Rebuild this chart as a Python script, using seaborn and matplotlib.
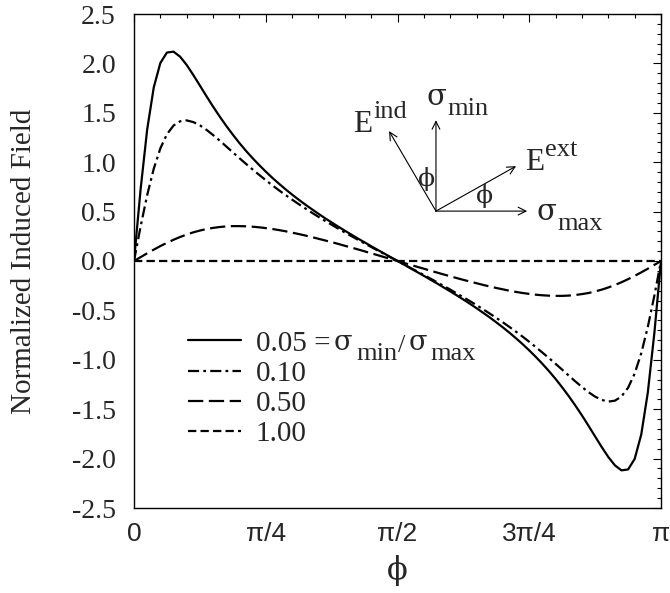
import numpy as np
import pandas as pd
import matplotlib
matplotlib.use("Agg")
import matplotlib.pyplot as plt
from matplotlib.ticker import MultipleLocator, FixedLocator
import seaborn as sns

phi = np.linspace(0, np.pi, 81)
ratio_labels = ["0.05", "0.10", "0.50", "1.00"]
field_005 = [0, 0.724, 1.331, 1.757, 2.004, 2.110, 2.119, 2.068, 1.984, 1.883, 1.776, 1.668,
             1.563, 1.463, 1.368, 1.279, 1.194, 1.115, 1.041, 0.971, 0.905, 0.842, 0.783,
             0.726, 0.672, 0.621, 0.571, 0.524, 0.478, 0.433, 0.390, 0.348, 0.307, 0.267,
             0.227, 0.189, 0.150, 0.112, 0.075, 0.037, 0,
             -0.037, -0.075, -0.112, -0.150, -0.189, -0.227, -0.267, -0.307, -0.348, -0.390,
             -0.433, -0.478, -0.524, -0.571, -0.621, -0.672, -0.726, -0.783, -0.842, -0.905,
             -0.971, -1.041, -1.115, -1.194, -1.279, -1.368, -1.463, -1.563, -1.668, -1.776,
             -1.883, -1.984, -2.068, -2.119, -2.110, -2.004, -1.757, -1.331, -0.724, 0]
field_010 = [0, 0.348, 0.667, 0.934, 1.140, 1.283, 1.371, 1.414, 1.423, 1.406, 1.373, 1.328,
             1.275, 1.219, 1.160, 1.100, 1.041, 0.983, 0.927, 0.872, 0.818, 0.766, 0.716,
             0.668, 0.621, 0.576, 0.532, 0.489, 0.447, 0.406, 0.367, 0.328, 0.289, 0.252,
             0.215, 0.178, 0.142, 0.106, 0.071, 0.035, 0,
             -0.035, -0.071, -0.106, -0.142, -0.178, -0.215, -0.252, -0.289, -0.328, -0.367,
             -0.406, -0.447, -0.489, -0.532, -0.576, -0.621, -0.668, -0.716, -0.766, -0.818,
             -0.872, -0.927, -0.983, -1.041, -1.100, -1.160, -1.219, -1.275, -1.328, -1.373,
             -1.406, -1.423, -1.414, -1.371, -1.283, -1.140, -0.934, -0.667, -0.348, 0]
field_050 = [0, 0.039, 0.078, 0.115, 0.151, 0.184, 0.215, 0.243, 0.268, 0.290, 0.308, 0.324,
             0.335, 0.344, 0.350, 0.353, 0.353, 0.351, 0.347, 0.341, 0.333, 0.324, 0.313,
             0.301, 0.287, 0.273, 0.258, 0.242, 0.225, 0.208, 0.191, 0.173, 0.154, 0.136,
             0.117, 0.098, 0.078, 0.059, 0.039, 0.020, 0,
             -0.020, -0.039, -0.059, -0.078, -0.098, -0.117, -0.136, -0.154, -0.173, -0.191,
             -0.208, -0.225, -0.242, -0.258, -0.273, -0.287, -0.301, -0.313, -0.324, -0.333,
             -0.341, -0.347, -0.351, -0.353, -0.353, -0.350, -0.344, -0.335, -0.324, -0.308,
             -0.290, -0.268, -0.243, -0.215, -0.184, -0.151, -0.115, -0.078, -0.039, 0]
field_100 = [0.0] * 81
x_tick_labels = ["0", "π/4", "π/2", "3π/4", "π"]
y_ticks = [-2.5, -2.0, -1.5, -1.0, -0.5, 0.0, 0.5, 1.0, 1.5, 2.0, 2.5]

df = pd.DataFrame({
    "phi": np.tile(phi, 4),
    "field": np.concatenate([field_005, field_010, field_050, field_100]),
    "ratio": np.repeat(ratio_labels, 81),
})

sns.set_theme(style="white")
plt.rcParams['font.family'] = ['Liberation Serif', 'DejaVu Serif']
plt.rcParams['axes.unicode_minus'] = False
plt.rcParams['lines.scale_dashes'] = False

FS = 20
W, H = 670, 593
fig = plt.figure(figsize=(6.7, 5.93), dpi=100)
ax = fig.add_axes([134 / W, 1 - 508 / H, 527 / W, 494 / H])

dash = {"0.05": None, "0.10": (8, 3, 2, 3), "0.50": (11, 4), "1.00": (6, 3)}
legend_text = {"0.05": '0.05 =', "0.10": '0.10', "0.50": '0.50', "1.00": '1.00'}
handles = []
for lab in ratio_labels:
    sub = df[df["ratio"] == lab]
    sns.lineplot(data=sub, x="phi", y="field", ax=ax, color='black', lw=1.6)
    ln = ax.lines[-1]
    if dash[lab]:
        ln.set_dashes(dash[lab])
    handles.append(ln)

ax.set_xlim(0, np.pi)
ax.set_ylim(-2.5, 2.5)
ax.xaxis.set_major_locator(FixedLocator([0, np.pi / 4, np.pi / 2, 3 * np.pi / 4, np.pi]))
ax.xaxis.set_minor_locator(FixedLocator([i * np.pi / 20 for i in range(21)]))
ax.set_xticklabels(x_tick_labels, fontsize=19, family=['Liberation Sans'])
ax.set_yticks(y_ticks)
ax.set_yticklabels([f"{v:.1f}" for v in y_ticks], fontsize=FS)
ax.yaxis.set_minor_locator(MultipleLocator(0.1))
ax.tick_params(which='both', direction='in', top=True, right=True, width=0.8, color='black')
ax.tick_params(which='major', length=6)
ax.tick_params(which='minor', length=3)
ax.tick_params(axis='y', pad=13)
ax.tick_params(axis='x', pad=10)
for s in ax.spines.values():
    s.set_linewidth(1.0)
    s.set_color('black')
ax.set_xlabel('ϕ', fontsize=22, family=['DejaVu Serif'])
ax.xaxis.set_label_coords(0.5, -0.095)
ax.set_ylabel('Normalized Induced Field', fontsize=21)
ax.yaxis.set_label_coords(-0.185, 0.5)

ax.legend(handles, [legend_text[l] for l in ratio_labels], loc='upper left',
          bbox_to_anchor=(0.1025, 0.360), frameon=False, fontsize=21, handlelength=1.82,
          handletextpad=0.5, labelspacing=0.13, borderpad=0, borderaxespad=0)

# inset vector diagram (axes fraction coordinates)
o = (0.573, 0.601)
tips = [(0.746, 0.601), (0.573, 0.785), (0.725, 0.692), (0.484, 0.763)]
for t in tips:
    ax.annotate('', xy=t, xytext=o, xycoords='axes fraction', textcoords='axes fraction',
                arrowprops=dict(arrowstyle='->', lw=0.8, color='black', shrinkA=0, shrinkB=0,
                                mutation_scale=14))


def ptext(x, y, s, size, family=None):
    kw = {} if family is None else {'family': family}
    fig.text(x / W, 1 - y / H, s, fontsize=size, va='baseline', ha='left', **kw)


GREEK = ['DejaVu Serif']
MAIN, SUB = 22.5, 19
# inset labels
ptext(353, 132, 'E', MAIN)
ptext(373, 118, 'ind', SUB)
ptext(427, 105, 'σ', 21, GREEK)
ptext(447, 115, 'min', SUB)
ptext(525, 170, 'E', MAIN)
ptext(545, 156, 'ext', SUB)
ptext(537, 220, 'σ', 21, GREEK)
ptext(557, 230, 'max', SUB)
fig.text(427 / W, 1 - 179 / H, 'ϕ', fontsize=18, family=GREEK, ha='center', va='center')
fig.text(485 / W, 1 - 196 / H, 'ϕ', fontsize=18, family=GREEK, ha='center', va='center')
# rest of the first legend label
ptext(334, 350, 'σ', 19.5, GREEK)
ptext(356, 360, 'min', 19)
ptext(398, 352, '/', 19)
ptext(409, 350, 'σ', 19.5, GREEK)
ptext(430, 360, 'max', 19)

plt.savefig("out.png", dpi=100)
